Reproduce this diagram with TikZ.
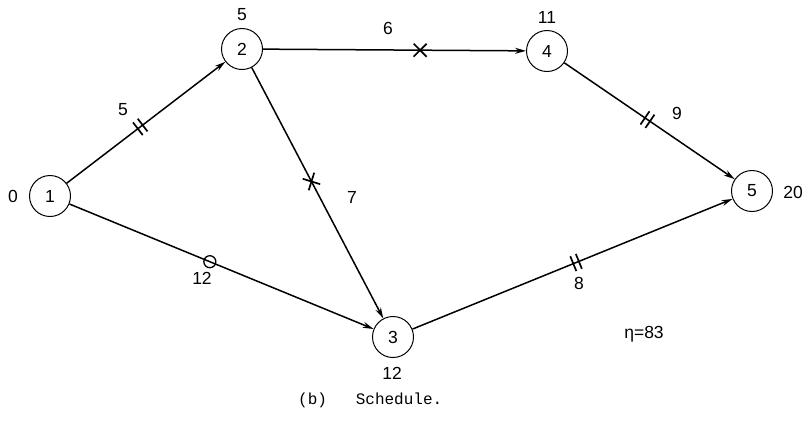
\documentclass[tikz,border=0pt]{standalone}
\usepackage{fontspec}
\setmainfont{Liberation Sans}
\newfontfamily\capfont{Liberation Mono}
\usetikzlibrary{arrows.meta}
\tikzset{
  dtick/.pic={\draw[mk] (-3,-8)--(-3,8) (3,-8)--(3,8);},
  xmark/.pic={\draw[mk] (-6.5,-6.5)--(6.5,6.5) (-6.5,6.5)--(6.5,-6.5);},
  omark/.pic={\draw[line width=1.3pt] (0,0) circle (6);}
}
\begin{document}
\begin{tikzpicture}[x=1pt,y=-1pt,
  ev/.style={circle,draw,line width=1pt,minimum size=41pt,inner sep=0pt,font=\fontsize{17.5}{17.5}\selectfont},
  lbl/.style={inner sep=0pt,font=\fontsize{17.5}{17.5}\selectfont},
  arr/.style={line width=1.5pt,-{Stealth[length=11pt,width=6pt]}},
  mk/.style={line width=1.7pt}]
\useasboundingbox (0,0) rectangle (808,424);
% events
\node[ev] (n1) at (50,196) {1};
\node[ev] (n2) at (242,49) {2};
\node[ev] (n3) at (393,337) {3};
\node[ev] (n4) at (547,51) {4};
\node[ev] (n5) at (752,191) {5};
% event times
\node[lbl] (t1) at (13,196) {0};
\node[lbl] (t2) at (242,15) {5};
\node[lbl] (t3) at (392,373) {12};
\node[lbl] (t4) at (547,17) {11};
\node[lbl] (t5) at (793,192) {20};
% activities
\draw[arr] (n1) -- (n2);
\draw[arr] (n1) -- (n3);
\draw[arr] (n2) -- (n4);
\draw[arr] (n2) -- (n3);
\draw[arr] (n4) -- (n5);
\draw[arr] (n3) -- (n5);
% marks
\path (n1.center) -- (n2.center) pic[pos=0.47,sloped]{dtick};
\path (n2.center) -- (n4.center) pic[pos=0.584,sloped]{xmark};
\path (n2.center) -- (n3.center) pic[pos=0.46,sloped]{xmark};
\path (n1.center) -- (n3.center) pic[pos=0.466,sloped]{omark};
\path (n4.center) -- (n5.center) pic[pos=0.49,sloped]{dtick};
\path (n3.center) -- (n5.center) pic[pos=0.51,sloped]{dtick};
% durations
\node[lbl] (d12) at (123,110) {5};
\node[lbl] (d24) at (388,28) {6};
\node[lbl] (d23) at (352,197) {7};
\node[lbl] (d13) at (202,278) {12};
\node[lbl] (d45) at (677,113) {9};
\node[lbl] (d35) at (579,283) {8};
\node[lbl] (eta) at (644,334) {η=83};
% caption
\node[anchor=west,inner sep=0pt,font=\capfont\fontsize{16}{16}\selectfont] (cap) at (298,400) {(b)\ \ \ Schedule.};
\end{tikzpicture}
\end{document}
